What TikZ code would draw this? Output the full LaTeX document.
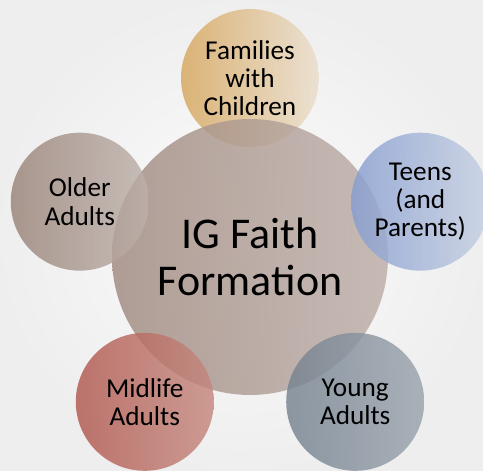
\documentclass[tikz,border=0pt]{standalone}
\usepackage{fontspec}
\setmainfont{Carlito}
\usetikzlibrary{positioning}

\definecolor{famA}{HTML}{D6A65C}
\definecolor{famB}{HTML}{EADDCB}
\definecolor{teenA}{HTML}{869DD0}
\definecolor{teenB}{HTML}{C6D0E2}
\definecolor{youngA}{HTML}{75828F}
\definecolor{youngB}{HTML}{9AA3AD}
\definecolor{midA}{HTML}{B0574E}
\definecolor{midB}{HTML}{C4887E}
\definecolor{oldA}{HTML}{998378}
\definecolor{oldB}{HTML}{BDB0AA}
\definecolor{coreA}{HTML}{A08A80}
\definecolor{coreB}{HTML}{BDAEA8}

\begin{document}
\begin{tikzpicture}[x=0.02cm, y=0.02cm, every node/.style={circle, align=center, inner sep=0pt, minimum size=2.76cm, fill opacity=0.82, text=black, text opacity=1, shading angle=60, font=\fontsize{15.5}{16}\selectfont}]
        \useasboundingbox (-250,-213) rectangle (233,257);
        \shade[inner color=white!97!gray, outer color=gray!13] (-250,-213) rectangle (233,257);
        \node (fam) at (90:179) [left color=famA, right color=famB] {Families\\with\\Children};
        \node (core) at (0,0) [minimum size=5.52cm, left color=coreA, right color=coreB, font=\fontsize{25}{27}\selectfont] {IG Faith\\Formation};
        \node (teen) at (18:179) [left color=teenA, right color=teenB] {Teens\\(and\\Parents)};
        \node (young) at (-54:179) [left color=youngA, right color=youngB] {Young\\Adults};
        \node (mid) at (-126:179) [left color=midA, right color=midB] {Midlife\\Adults};
        \node (old) at (162:179) [left color=oldA, right color=oldB] {Older\\Adults};
    \end{tikzpicture}
\end{document}
